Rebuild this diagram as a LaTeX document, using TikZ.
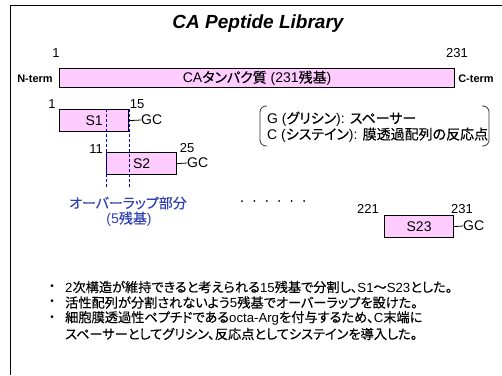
\documentclass[tikz,border=0pt]{standalone}
\usepackage{fontspec}
\setmainfont{Liberation Sans}
\newfontfamily\jpfont[RawFeature=+palt, FakeBold=0.3]{Noto Sans CJK JP}
\newcommand{\jp}[1]{{\jpfont #1}}
\definecolor{pinkfill}{HTML}{FFCCFF}
\definecolor{ovblue}{HTML}{0000CC}
\definecolor{txtblue}{HTML}{3040B0}
\tikzset{
  pbox/.style={draw=black, line width=1.2pt, fill=pinkfill, inner sep=0pt, font=\fontsize{14}{16}\selectfont},
  lbl/.style={inner sep=0pt, font=\fontsize{14}{16}\selectfont},
  numl/.style={inner sep=0pt, font=\fontsize{13}{15}\selectfont},
  term/.style={inner sep=0pt, font=\bfseries\fontsize{11}{13}\selectfont},
  blt/.style={inner sep=0pt, anchor=west, font=\fontsize{13.2}{15}\selectfont},
  dotb/.style={inner sep=0pt, font=\fontsize{10}{12}\selectfont},
  link/.style={line width=0.8pt},
  ovl/.style={ovblue, dash pattern=on 3pt off 2pt, line width=1pt},
  brk/.style={line width=0.8pt, rounded corners=6pt, black!80},
}
\begin{document}
\begin{tikzpicture}[x=1pt,y=-1pt]
\useasboundingbox (0,0) rectangle (502,375);
\draw[line width=1.5pt] (10.5,375) -- (10.5,5.5) -- (502,5.5);
\node[inner sep=0pt, anchor=base, font=\bfseries\itshape\fontsize{19}{22}\selectfont] (title) at (258,28) {CA Peptide Library};

% full protein bar
\node[pbox, minimum width=395pt, minimum height=19pt, anchor=north west] (bar) at (59,68) {CA\jp{タンパク質} (231\jp{残基})};
\node[numl] (b1) at (56,53) {1};
\node[numl] (b231) at (457,53) {231};
\node[term] (nterm) at (35,79) {N-term};
\node[term] (cterm) at (476,79) {C-term};

% S1
\node[pbox, minimum width=69pt, minimum height=22pt, anchor=north west] (s1) at (59,109) {S1};
\node[numl] (s1a) at (52,104) {1};
\node[numl] (s1b) at (137,104) {15};
\node[lbl, anchor=west] (gc1) at (141,120) {GC};
\draw[link] (s1.east) -- (gc1.west);

% S2
\node[pbox, minimum width=70pt, minimum height=22pt, anchor=north west] (s2) at (106,152) {S2};
\node[numl] (s2a) at (96,149) {11};
\node[numl] (s2b) at (187,148) {25};
\node[lbl, anchor=west] (gc2) at (187,163) {GC};
\draw[link] (s2.east) -- (gc2.west);

% overlap
\draw[ovl] (s2.north west |- s1.north) -- ++(0,79);
\draw[ovl] (s1.north east) -- ++(0,79);
\node[lbl, text=txtblue] (ovt1) at (128,203) {\jp{オーバーラップ部分}};
\node[lbl, text=txtblue] (ovt2) at (129,219) {(5\jp{残基})};

% dots
\foreach \i in {0,...,5} \fill (242+12.4*\i,201) circle (1pt);

% S23
\node[pbox, minimum width=69pt, minimum height=22pt, anchor=north west] (s23) at (384,215) {S23};
\node[numl] (s23a) at (368,209) {221};
\node[numl] (s23b) at (462,209) {231};
\node[lbl, anchor=west] (gc23) at (463,226) {GC};
\draw[link] (s23.east) -- (gc23.west);

% bracket note
\draw[brk] (267,106) -- (260,106) -- (260,146) -- (267,146);
\draw[brk] (482,106) -- (489,106) -- (489,146) -- (482,146);
\node[lbl, anchor=west] (ng) at (267,119) {G (\jp{グリシン}): \jp{スペーサー}};
\node[lbl, anchor=west] (nc) at (267,135) {C (\jp{システイン}): \jp{膜透過配列の反応点}};

% bullets
\node[dotb] (d1) at (52,287) {•};
\node[dotb] (d2) at (52,302.5) {•};
\node[dotb] (d3) at (52,318) {•};
\node[blt] (t1) at (65,287) {2\jp{次構造が維持できると考えられる}15\jp{残基で分割し、}S1\jp{～}S23\jp{とした。}};
\node[blt] (t2) at (65,302.5) {\jp{活性配列が分割されないよう}5\jp{残基でオーバーラップを設けた。}};
\node[blt] (t3) at (65,318) {\jp{細胞膜透過性ペプチドである}octa-Arg\jp{を付与するため、}C\jp{末端に}};
\node[blt] (t4) at (65,334) {\jp{スペーサーとしてグリシン、反応点としてシステインを導入した。}};
\end{tikzpicture}
\end{document}
